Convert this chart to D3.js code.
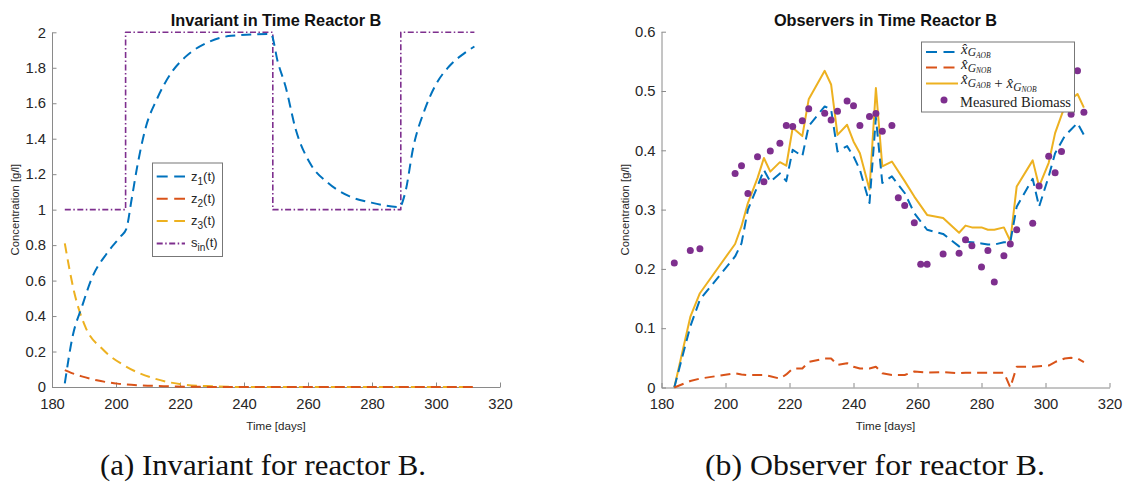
<!DOCTYPE html>
<html>
<head>
<meta charset="utf-8">
<script src="https://cdn.jsdelivr.net/npm/d3@7"></script>
<style>
  body { margin: 0; background: #fff; }
  svg { display: block; }
</style>
</head>
<body>
<div class="chart"></div>
<script>
// ---- data ----
// invariant plot (reactor B)
const z1Days = [184, 186.5, 189.3, 192.6, 197, 201.5, 203.2, 204.9, 206.6, 209.4, 212.7, 217.2, 221.6, 228.3, 236, 248.4, 250.6, 252.9, 256.2, 260.7, 266.3, 273, 279.7, 288.6, 290.3, 293, 296.4, 299.8, 304.2, 308.7, 312];
const z1Vals = [0.02, 0.29, 0.45, 0.62, 0.75, 0.85, 0.89, 1.06, 1.24, 1.47, 1.62, 1.77, 1.86, 1.94, 1.98, 1.99, 1.83, 1.70, 1.45, 1.26, 1.15, 1.075, 1.04, 1.015, 1.09, 1.36, 1.56, 1.70, 1.81, 1.88, 1.92];
const z2Days = [184, 186, 189.3, 194, 200.4, 208, 217, 225, 235, 312];
const z2Vals = [0.095, 0.08, 0.06, 0.038, 0.019, 0.009, 0.004, 0.001, 0, 0];
const z3Days = [184, 187, 190.4, 196, 202.7, 211.6, 221.6, 230, 240, 312];
const z3Vals = [0.81, 0.53, 0.34, 0.21, 0.12, 0.05, 0.013, 0.004, 0, 0];
const sinDays = [184, 203, 203, 249, 249, 289, 289, 312];
const sinVals = [1, 1, 2, 2, 1, 1, 2, 2];

// observer plot (reactor B)
const obsDays = [184, 189, 192, 203, 205, 207, 210, 212, 214, 217, 219, 221, 224, 226, 231, 233, 235, 238, 240, 242, 245, 247, 249, 252, 256, 259, 263, 268, 273, 275, 277, 280, 282, 284, 287, 289, 291, 296, 298, 301, 303, 306, 308, 310, 312];
const aobVals = [0, 0.103, 0.148, 0.221, 0.243, 0.300, 0.339, 0.367, 0.347, 0.361, 0.348, 0.401, 0.390, 0.441, 0.474, 0.469, 0.398, 0.407, 0.390, 0.367, 0.311, 0.455, 0.345, 0.356, 0.328, 0.294, 0.266, 0.259, 0.238, 0.246, 0.245, 0.243, 0.241, 0.241, 0.245, 0.245, 0.305, 0.352, 0.305, 0.356, 0.395, 0.424, 0.435, 0.446, 0.426];
const nobVals = [0, 0.011, 0.015, 0.024, 0.022, 0.021, 0.021, 0.021, 0.019, 0.015, 0.022, 0.032, 0.032, 0.043, 0.049, 0.049, 0.038, 0.041, 0.035, 0.032, 0.032, 0.035, 0.024, 0.021, 0.021, 0.027, 0.025, 0.026, 0.024, 0.025, 0.025, 0.025, 0.025, 0.025, 0.025, 0, 0.035, 0.035, 0.036, 0.037, 0.043, 0.049, 0.050, 0.049, 0.043];
const sumVals = [0, 0.119, 0.159, 0.242, 0.272, 0.311, 0.353, 0.387, 0.364, 0.380, 0.374, 0.438, 0.424, 0.486, 0.534, 0.511, 0.426, 0.443, 0.415, 0.395, 0.334, 0.505, 0.373, 0.381, 0.348, 0.322, 0.291, 0.286, 0.261, 0.273, 0.270, 0.270, 0.266, 0.266, 0.270, 0.247, 0.339, 0.383, 0.339, 0.379, 0.429, 0.474, 0.486, 0.495, 0.472];
const measDays = [184, 189, 192, 203, 205, 207, 210, 212, 214, 217, 219, 221, 224, 226, 231, 233, 235, 238, 240, 242, 245, 247, 249, 252, 254, 256, 259, 261, 263, 268, 273, 275, 277, 280, 282, 284, 287, 289, 291, 296, 298, 301, 303, 305, 308, 310, 312];
const measVals = [0.210, 0.231, 0.234, 0.361, 0.374, 0.327, 0.389, 0.347, 0.399, 0.412, 0.442, 0.440, 0.450, 0.470, 0.4625, 0.451, 0.466, 0.483, 0.475, 0.442, 0.457, 0.462, 0.432, 0.442, 0.320, 0.307, 0.278, 0.208, 0.208, 0.225, 0.2265, 0.249, 0.239, 0.203, 0.231, 0.178, 0.222, 0.242, 0.266, 0.277, 0.340, 0.390, 0.362, 0.398, 0.461, 0.534, 0.464];

// tick labels
const xTicks = [180, 200, 220, 240, 260, 280, 300, 320];
const invTicks = [0, 0.2, 0.4, 0.6, 0.8, 1, 1.2, 1.4, 1.6, 1.8, 2];
const obsTicks = [0, 0.1, 0.2, 0.3, 0.4, 0.5, 0.6];

const BLUE = "#0072BD", RED = "#D95319", YELLOW = "#EDB120", PURPLE = "#7E2F8E";
const SANS = "'Liberation Sans', Arial, sans-serif";
const SERIF = "'Liberation Serif', 'Times New Roman', serif";
const DASH = "10,6";

const svg = d3.select(".chart").append("svg")
    .attr("width", 1124)
    .attr("height", 483);

const zip = (xs, ys) => xs.map((d, i) => [d, ys[i]]);

//draws one MATLAB-ish axes (left + bottom only, ticks pointing in)
function makeAxes(opts) {
    const x = d3.scaleLinear().domain([180, 320]).range([opts.left, opts.right]);
    const y = d3.scaleLinear().domain(opts.yDomain).range([opts.bottom, opts.top]);
    const g = svg.append("g");

    const xAxis = g.append("g")
        .attr("transform", `translate(0,${opts.bottom})`)
        .call(d3.axisBottom(x).tickValues(xTicks).tickFormat(d3.format("d"))
            .tickSizeInner(-4.5).tickSizeOuter(0).tickPadding(11));
    const yAxis = g.append("g")
        .attr("transform", `translate(${opts.left},0)`)
        .call(d3.axisLeft(y).tickValues(opts.yTicks).tickFormat(d => String(+d.toFixed(1)))
            .tickSizeInner(-4.5).tickSizeOuter(0).tickPadding(6));

    [xAxis, yAxis].forEach(a => {
        a.select(".domain").attr("stroke", "#8a8a8a");
        a.selectAll(".tick line").attr("stroke", "#8a8a8a");
        a.selectAll("text").attr("font-family", SANS).attr("font-size", 14.8).attr("fill", "#262626");
    });

    const cx = (opts.left + opts.right) / 2;
    g.append("text")
        .attr("x", cx).attr("y", 26)
        .attr("text-anchor", "middle")
        .attr("font-family", SANS).attr("font-size", 16.3).attr("font-weight", "bold")
        .attr("fill", "#111")
        .text(opts.title);
    g.append("text")
        .attr("x", cx).attr("y", 429.5)
        .attr("text-anchor", "middle")
        .attr("font-family", SANS).attr("font-size", 11.6).attr("fill", "#262626")
        .text("Time [days]");
    g.append("text")
        .attr("transform", `translate(${opts.left - 33},${(opts.top + opts.bottom) / 2}) rotate(-90)`)
        .attr("text-anchor", "middle")
        .attr("font-family", SANS).attr("font-size", 11.3).attr("fill", "#262626")
        .text("Concentration [g/l]");

    return { g, x, y };
}

function drawLine(ax, pts, color, dash, width, curve) {
    const line = d3.line()
        .x(d => ax.x(d[0]))
        .y(d => ax.y(d[1]))
        .curve(curve || d3.curveLinear);
    ax.g.append("path")
        .datum(pts)
        .attr("d", line)
        .attr("fill", "none")
        .attr("stroke", color)
        .attr("stroke-width", width)
        .attr("stroke-dasharray", dash)
        .attr("stroke-linejoin", "round");
}

//---- left: invariant ----
const inv = makeAxes({
    left: 52, right: 500, top: 32.3, bottom: 387,
    yDomain: [0, 2], yTicks: invTicks,
    title: "Invariant in Time Reactor B"
});
drawLine(inv, zip(z3Days, z3Vals), YELLOW, DASH, 2, d3.curveMonotoneX);
drawLine(inv, zip(z2Days, z2Vals), RED, DASH, 2, d3.curveMonotoneX);
drawLine(inv, zip(sinDays, sinVals), PURPLE, "6,2.5,1.5,2.5", 1.6);
drawLine(inv, zip(z1Days, z1Vals), BLUE, DASH, 2, d3.curveMonotoneX);

//legend (left)
const invLegend = [
    { name: "z", sub: "1", color: BLUE, dash: "11,6.5" },
    { name: "z", sub: "2", color: RED, dash: "11,6.5" },
    { name: "z", sub: "3", color: YELLOW, dash: "11,6.5" },
    { name: "s", sub: "in", color: PURPLE, dash: "6,2.5,1.5,2.5" }
];
const lg1 = svg.append("g");
lg1.append("rect")
    .attr("x", 152.5).attr("y", 163).attr("width", 70).attr("height", 93.5)
    .attr("fill", "#fff").attr("stroke", "#777").attr("stroke-width", 1);
invLegend.forEach((d, i) => {
    const yy = 176.5 + i * 22.3;
    lg1.append("line")
        .attr("x1", 156.7).attr("x2", 185).attr("y1", yy).attr("y2", yy)
        .attr("stroke", d.color).attr("stroke-width", 2).attr("stroke-dasharray", d.dash);
    const t = lg1.append("text")
        .attr("x", 191).attr("y", yy + 4)
        .attr("font-family", SANS).attr("font-size", 13).attr("fill", "#262626");
    t.append("tspan").text(d.name);
    t.append("tspan").attr("dy", 4).attr("font-size", 10).text(d.sub);
    t.append("tspan").attr("dy", -4).text("(t)");
});

//---- right: observers ----
const obs = makeAxes({
    left: 661.5, right: 1109.5, top: 31.7, bottom: 387.5,
    yDomain: [0, 0.6], yTicks: obsTicks,
    title: "Observers in Time Reactor B"
});
drawLine(obs, zip(obsDays, sumVals), YELLOW, null, 2);
drawLine(obs, zip(obsDays, aobVals), BLUE, DASH, 2);
drawLine(obs, zip(obsDays, nobVals), RED, DASH, 2);
obs.g.selectAll("circle.meas")
    .data(zip(measDays, measVals))
    .join("circle")
    .attr("class", "meas")
    .attr("cx", d => obs.x(d[0]))
    .attr("cy", d => obs.y(d[1]))
    .attr("r", 3.5)
    .attr("fill", PURPLE);

//legend (right), LaTeX-ish labels
const lg2 = svg.append("g");
lg2.append("rect")
    .attr("x", 921.5).attr("y", 42).attr("width", 153).attr("height", 70)
    .attr("fill", "#fff").attr("stroke", "#777").attr("stroke-width", 1);
function hatX(t, grp) {
    t.append("tspan").attr("font-style", "italic").text("x\u0302");
    t.append("tspan").attr("dy", 2.5).attr("font-size", 11.5).attr("font-style", "italic").text("G");
    t.append("tspan").attr("dy", 1.5).attr("font-size", 7.5).attr("font-style", "italic").text(grp);
    t.append("tspan").attr("dy", -4).text("");
}
const obsLegend = [
    { color: BLUE, dash: "11,6.5", y: 52, label: t => hatX(t, "AOB") },
    { color: RED, dash: "11,6.5", y: 67.5, label: t => hatX(t, "NOB") },
    { color: YELLOW, dash: null, y: 83.5, label: t => { hatX(t, "AOB"); t.append("tspan").text(" + "); hatX(t, "NOB"); } }
];
obsLegend.forEach((d, i) => {
    lg2.append("line")
        .attr("x1", 926).attr("x2", 958).attr("y1", d.y).attr("y2", d.y)
        .attr("stroke", d.color).attr("stroke-width", 2).attr("stroke-dasharray", d.dash);
    const t = lg2.append("text")
        .attr("x", 961).attr("y", d.y + (i === 2 ? 0.5 : 1.5))
        .attr("font-family", SERIF).attr("font-size", 15).attr("fill", "#222");
    d.label(t);
});
lg2.append("circle").attr("cx", 944).attr("cy", 100).attr("r", 3.5).attr("fill", PURPLE);
lg2.append("text")
    .attr("x", 960).attr("y", 106.5)
    .attr("font-family", SERIF).attr("font-size", 14.5).attr("fill", "#222")
    .attr("textLength", 111).attr("lengthAdjust", "spacingAndGlyphs")
    .text("Measured Biomass");

//---- sub-captions ----
svg.append("text")
    .attr("x", 100).attr("y", 475)
    .attr("font-family", SERIF).attr("font-size", 29).attr("fill", "#111")
    .attr("textLength", 326).attr("lengthAdjust", "spacingAndGlyphs")
    .text("(a) Invariant for reactor B.");
svg.append("text")
    .attr("x", 705).attr("y", 475)
    .attr("font-family", SERIF).attr("font-size", 29).attr("fill", "#111")
    .attr("textLength", 340).attr("lengthAdjust", "spacingAndGlyphs")
    .text("(b) Observer for reactor B.");
</script>
</body>
</html>
